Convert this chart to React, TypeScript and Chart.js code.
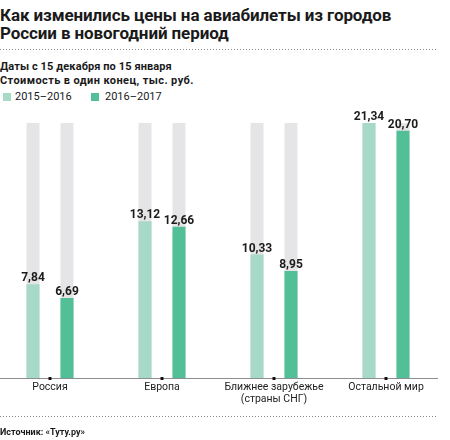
import React, { useEffect, useRef } from "react";
import { Chart, registerables } from "chart.js";

Chart.register(...registerables);

const categories: (string | string[])[] = [
  "Россия",
  "Европа",
  ["Ближнее зарубежье", "(страны СНГ)"],
  "Остальной мир",
];
const seriesNames = ["2015–2016", "2016–2017"];
const prices2015_2016 = [7.84, 13.12, 10.33, 21.34];
const prices2016_2017 = [6.69, 12.66, 8.95, 20.7];

const LIGHT = "rgb(166,218,199)";
const DARK = "rgb(83,191,150)";
const TRACK = "rgb(229,229,231)";
const FONT = "Roboto, 'Noto Sans', sans-serif";

const fmt = (v: number) => v.toFixed(2).replace(".", ",");

const valueLabels = {
  id: "valueLabels",
  afterDatasetsDraw(chart: any) {
    const ctx = chart.ctx;
    ctx.save();
    ctx.font = `bold 12px ${FONT}`;
    ctx.fillStyle = "#1c1c1c";
    ctx.textAlign = "center";
    ctx.textBaseline = "alphabetic";
    chart.data.datasets.forEach((ds: any, di: number) => {
      if (!ds.showValue) return;
      const meta = chart.getDatasetMeta(di);
      meta.data.forEach((el: any, i: number) => {
        ctx.fillText(fmt(ds.data[i]), el.x, el.y - 3);
      });
    });
    ctx.restore();
  },
};

const tickMarks = {
  id: "tickMarks",
  afterDraw(chart: any) {
    const ctx = chart.ctx;
    const xs = chart.scales.x;
    const y = chart.chartArea.bottom;
    ctx.save();
    ctx.fillStyle = "#111";
    categories.forEach((_, i) => {
      const x = Math.round(xs.getPixelForValue(i));
      ctx.fillRect(x - 1.5, y - 1, 3, 3);
    });
    ctx.restore();
  },
};

export default function App() {
  const ref = useRef<HTMLCanvasElement>(null);

  useEffect(() => {
    if (!ref.current) return;
    const yMax = Math.max(...prices2015_2016, ...prices2016_2017);
    const track = categories.map(() => yMax);
    const chart = new Chart(ref.current, {
      type: "bar",
      data: {
        labels: categories.map((_, i) => i),
        datasets: [
          {
            label: seriesNames[0],
            data: prices2015_2016,
            backgroundColor: LIGHT,
            stack: "a",
            order: 0,
            showValue: true,
          } as any,
          {
            label: seriesNames[1],
            data: prices2016_2017,
            backgroundColor: DARK,
            stack: "b",
            order: 0,
            showValue: true,
          } as any,
          {
            label: "track a",
            data: track,
            backgroundColor: TRACK,
            stack: "a",
            order: 1,
          },
          {
            label: "track b",
            data: track,
            backgroundColor: TRACK,
            stack: "b",
            order: 1,
          },
        ],
      },
      options: {
        responsive: false,
        animation: false,
        datasets: {
          bar: {
            categoryPercentage: 68 / 112,
            barPercentage: 13 / 34,
          },
        },
        layout: { padding: { top: 23, right: 13, left: 0, bottom: 0 } },
        plugins: {
          legend: { display: false },
          tooltip: { enabled: false },
        },
        scales: {
          x: {
            type: "linear",
            offset: false,
            stacked: true,
            min: -50 / 112,
            max: (437 - 50) / 112,
            grid: { display: false, drawTicks: false, offset: false },
            border: { display: true, color: "#8e8e8e", width: 1 },
            afterFit: (scale: any) => {
              scale.height = 62;
              scale.paddingLeft = 0;
              scale.paddingRight = 0;
            },
            ticks: {
              stepSize: 1,
              includeBounds: false,
              autoSkip: false,
              maxRotation: 0,
              padding: 3,
              color: "#222",
              font: { family: FONT, size: 10.5, lineHeight: 1.15 },
              callback: (v: any) => categories[v as number] ?? "",
            },
          },
          y: {
            display: false,
            stacked: false,
            min: 0,
            max: yMax,
          },
        },
      },
      plugins: [valueLabels, tickMarks],
    });
    return () => chart.destroy();
  }, []);

  const dotted: React.CSSProperties = {
    position: "absolute",
    left: 0,
    width: 438,
    height: 1,
    backgroundImage: "linear-gradient(to right, #8a8a8a 1px, transparent 1px)",
    backgroundSize: "3px 1px",
  };
  const swatch = (color: string, left: number): React.CSSProperties => ({
    position: "absolute",
    left,
    top: 93,
    width: 8,
    height: 8,
    background: color,
  });

  return (
    <div
      style={{
        position: "relative",
        width: 450,
        height: 440,
        fontFamily: FONT,
        color: "#1a1a1a",
        overflow: "hidden",
      }}
    >
      <style>{`body{margin:0}`}</style>
      <div
        style={{
          position: "absolute",
          left: 0,
          top: 6,
          fontSize: 17,
          lineHeight: "18px",
          fontWeight: 700,
          whiteSpace: "nowrap",
          letterSpacing: -0.1,
        }}
      >
        Как изменились цены на авиабилеты из городов
        <br />
        России в новогодний период
      </div>
      <div style={{ ...dotted, top: 49 }} />
      <div
        style={{
          position: "absolute",
          left: 0,
          top: 60,
          fontSize: 11,
          lineHeight: "14px",
          fontWeight: 700,
          whiteSpace: "nowrap",
        }}
      >
        <span style={{ letterSpacing: 0.1 }}>Даты с 15 декабря по 15 января</span>
        <br />
        <span style={{ letterSpacing: 0.4 }}>Стоимость в один конец, тыс. руб.</span>
      </div>
      <div style={swatch(LIGHT, 3)} />
      <div
        style={{
          position: "absolute",
          left: 15,
          top: 90,
          fontSize: 11,
          lineHeight: "14px",
          whiteSpace: "nowrap",
        }}
      >
        {seriesNames[0]}
      </div>
      <div style={swatch(DARK, 91)} />
      <div
        style={{
          position: "absolute",
          left: 105,
          top: 90,
          fontSize: 11,
          lineHeight: "14px",
          whiteSpace: "nowrap",
        }}
      >
        {seriesNames[1]}
      </div>
      <canvas
        ref={ref}
        width={450}
        height={340}
        style={{ position: "absolute", left: 0, top: 100, width: 450, height: 340 }}
      />
      <div style={{ ...dotted, top: 416 }} />
      <div
        style={{
          position: "absolute",
          left: 0,
          top: 426,
          fontSize: 9,
          lineHeight: "12px",
          fontWeight: 700,
          whiteSpace: "nowrap",
        }}
      >
        Источник: «Туту.ру»
      </div>
    </div>
  );
}
